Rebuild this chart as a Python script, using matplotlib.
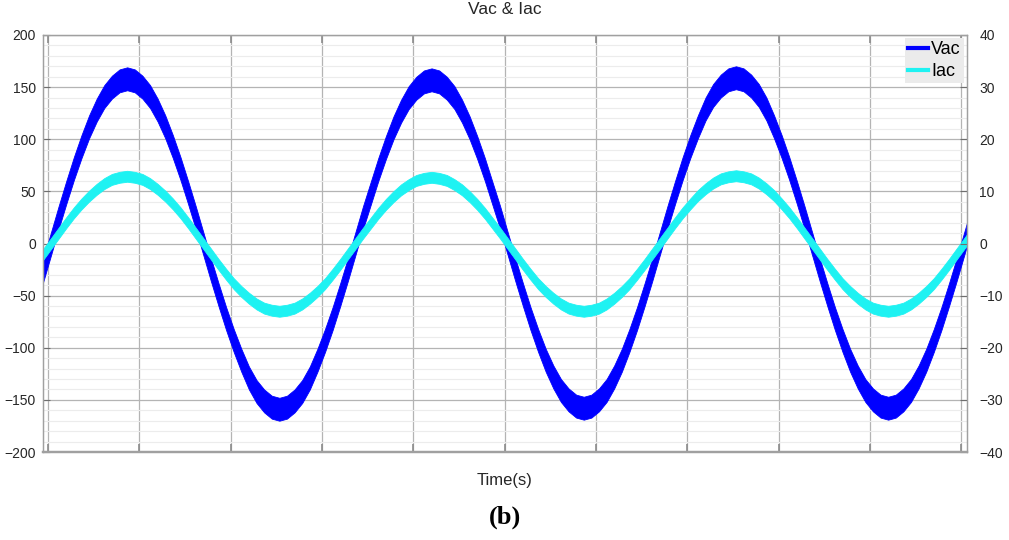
import numpy as np
import matplotlib.pyplot as plt
from matplotlib.lines import Line2D
from matplotlib.ticker import MultipleLocator

plt.rcParams['font.family'] = ['Liberation Sans', 'DejaVu Sans']

# Time axis (ms), one sample every 0.5 ms
t_ms = -0.8 + 0.5 * np.arange(124)

# Vac centre line (V)
vac_mid = [
    -49, -25,
    0, 25, 49, 72, 93, 112, 128, 141, 150, 156, 158, 156, 150, 141, 128, 112, 93, 72, 49, 25,
    0, -25, -49, -72, -93, -112, -129, -142, -151, -157, -159, -157, -151, -142, -129, -112, -93, -72, -49, -25,
    0, 25, 48, 71, 92, 111, 127, 140, 149, 155, 157, 155, 149, 140, 127, 111, 92, 71, 48, 25,
    0, -25, -49, -72, -93, -112, -128, -141, -150, -156, -158, -156, -150, -141, -128, -112, -93, -72, -49, -25,
    0, 25, 49, 72, 93, 112, 129, 142, 151, 157, 159, 157, 151, 142, 129, 112, 93, 72, 49, 25,
    0, -25, -49, -72, -93, -112, -128, -141, -150, -156, -158, -156, -150, -141, -128, -112, -93, -72, -49, -25,
    0, 25,
]

# Iac centre line (A)
iac_mid = [
    -4.0, -2.0,
    0, 2.0, 4.0, 5.9, 7.6, 9.1, 10.4, 11.5, 12.3, 12.7, 12.9, 12.7, 12.3, 11.5, 10.4, 9.1, 7.6, 5.9, 4.0, 2.0,
    0, -2.0, -4.0, -5.9, -7.7, -9.2, -10.5, -11.6, -12.4, -12.8, -13.0, -12.8, -12.4, -11.6, -10.5, -9.2, -7.7, -5.9, -4.0, -2.0,
    0, 2.0, 3.9, 5.8, 7.5, 9.0, 10.3, 11.3, 12.1, 12.5, 12.7, 12.5, 12.1, 11.3, 10.3, 9.0, 7.5, 5.8, 3.9, 2.0,
    0, -2.0, -4.0, -5.9, -7.7, -9.2, -10.5, -11.6, -12.4, -12.8, -13.0, -12.8, -12.4, -11.6, -10.5, -9.2, -7.7, -5.9, -4.0, -2.0,
    0, 2.0, 4.0, 5.9, 7.6, 9.2, 10.5, 11.6, 12.4, 12.8, 13.0, 12.8, 12.4, 11.6, 10.5, 9.2, 7.6, 5.9, 4.0, 2.0,
    0, -2.0, -4.0, -5.9, -7.7, -9.2, -10.5, -11.6, -12.4, -12.8, -13.0, -12.8, -12.4, -11.6, -10.5, -9.2, -7.7, -5.9, -4.0, -2.0,
    0, 2.0,
]

# half thickness of the ripple band
vac_spread = 11
iac_spread = 1.05

vac_mid = np.array(vac_mid, dtype=float)
iac_mid = np.array(iac_mid, dtype=float)

fig = plt.figure(figsize=(10.09, 5.4), dpi=100)
ax1 = fig.add_axes([43 / 1009, 1 - 452 / 540, (967 - 43) / 1009, (452 - 35) / 540])
ax2 = ax1.twinx()

blue = '#0000ff'
cyan = '#1ef2f2'

ax1.fill_between(t_ms, vac_mid - vac_spread, vac_mid + vac_spread,
                 color=blue, lw=0.6, edgecolor=blue)
ax2.fill_between(t_ms, iac_mid - iac_spread, iac_mid + iac_spread,
                 color=cyan, lw=0.6, edgecolor=cyan)

ax1.set_xlim(-0.33, 60.38)
ax1.set_ylim(-200, 200)
ax2.set_ylim(-40, 40)

ax1.set_xticks(np.arange(0, 61, 6))
ax1.set_xticklabels([])
ax1.set_yticks(np.arange(-200, 201, 50))
ax2.set_yticks(np.arange(-40, 41, 10))
ax1.yaxis.set_minor_locator(MultipleLocator(10))

ax1.set_axisbelow(True)
ax1.grid(which='major', color='#b4b4b4', lw=0.9)
ax1.grid(which='minor', axis='y', color='#ececec', lw=0.8)

ax1.tick_params(axis='x', which='major', direction='in', length=6, top=True,
                color='#8c8c8c', width=1.2)
ax1.tick_params(axis='y', which='major', direction='in', length=5,
                color='#6e6e6e', labelsize=10, labelcolor='#262626', pad=5)
ax1.tick_params(which='minor', length=0)
ax2.tick_params(axis='y', direction='in', length=5, color='#6e6e6e',
                labelsize=10, labelcolor='#262626', pad=9)

for ax in (ax1, ax2):
    for side in ('left', 'right', 'top'):
        ax.spines[side].set_color('#a0a0a0')
        ax.spines[side].set_linewidth(0.9)
    ax.spines['bottom'].set_color('#a0a0a0')
    ax.spines['bottom'].set_linewidth(1.6)

handles = [Line2D([], [], color=blue, lw=3), Line2D([], [], color=cyan, lw=3)]
leg = ax2.legend(handles, ['Vac', 'Iac'], loc='upper right', fontsize=13,
                 handlelength=1.1, handletextpad=0.15, labelspacing=0.25,
                 borderpad=0.2, borderaxespad=0.15, frameon=True, fancybox=False)
leg.get_frame().set_facecolor('#ebebeb')
leg.get_frame().set_edgecolor('none')
leg.get_frame().set_alpha(1)

fig.text(505 / 1009, 1 - 10 / 540, 'Vac & Iac', ha='center', va='center',
         fontsize=12.5, color='#262626')
fig.text(505 / 1009, 1 - 481 / 540, 'Time(s)', ha='center', va='center',
         fontsize=12, color='#262626')
fig.text(505 / 1009, 1 - 517 / 540, '(b)', ha='center', va='center',
         fontsize=19, fontweight='bold', family=['Liberation Serif', 'DejaVu Serif'])

fig.savefig('out.png', dpi=100)
